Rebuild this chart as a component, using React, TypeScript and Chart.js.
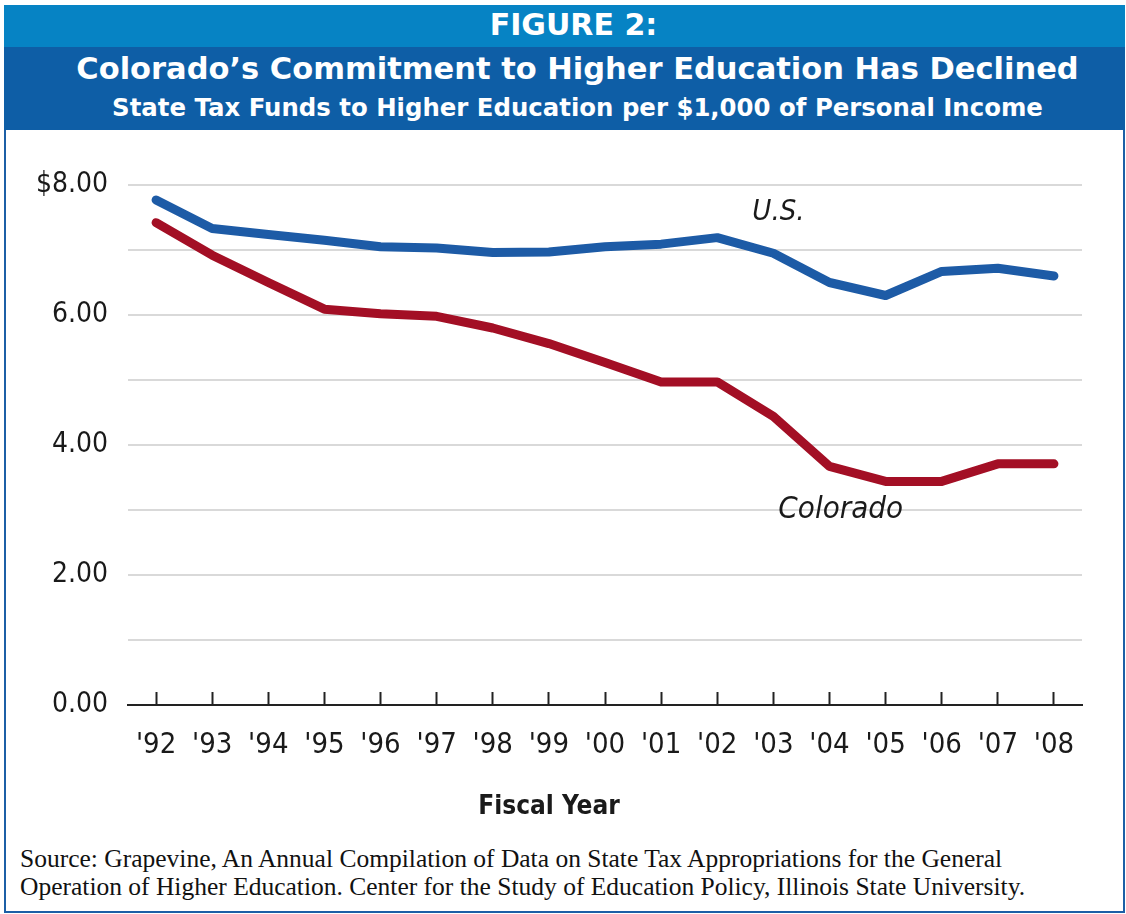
import React, { useEffect, useRef } from 'react';
import { Chart, registerables } from 'chart.js';

Chart.register(...registerables);

// ---- data ----
const fiscalYears = ["'92", "'93", "'94", "'95", "'96", "'97", "'98", "'99", "'00", "'01", "'02", "'03", "'04", "'05", "'06", "'07", "'08"];
const usValues = [7.77, 7.33, 7.24, 7.15, 7.05, 7.03, 6.96, 6.97, 7.05, 7.09, 7.19, 6.95, 6.5, 6.3, 6.67, 6.72, 6.6];
const coloradoValues = [7.42, 6.92, 6.5, 6.09, 6.02, 5.98, 5.8, 5.56, 5.27, 4.97, 4.97, 4.44, 3.67, 3.44, 3.44, 3.71, 3.71];
const yTickLabels = ['0.00', '', '2.00', '', '4.00', '', '6.00', '', '$8.00'];
const seriesNames = ['U.S.', 'Colorado'];

const figureLabel = 'FIGURE 2:';
const titleText = 'Colorado\u2019s Commitment to Higher Education Has Declined';
const subtitleText = 'State Tax Funds to Higher Education per $1,000 of Personal Income';
const xAxisTitle = 'Fiscal Year';
const sourceLines = [
  'Source: Grapevine, An Annual Compilation of Data on State Tax Appropriations for the General',
  'Operation of Higher Education. Center for the Study of Education Policy, Illinois State University.',
];

const NARROW = '"DejaVu Sans Condensed", "Liberation Sans", sans-serif';
const HEAD = '"DejaVu Sans", "Liberation Sans", sans-serif';
const US_COLOR = '#1d5ba6';
const CO_COLOR = '#a30f25';

const seriesLabelPlugin = {
  id: 'seriesLabels',
  afterDatasetsDraw(chart: any) {
    const { ctx, scales } = chart;
    const x = scales.x;
    const y = scales.y;
    ctx.save();
    ctx.fillStyle = '#1a1a1a';
    ctx.textBaseline = 'middle';
    ctx.textAlign = 'left';
    ctx.font = `italic 29px ${NARROW}`;
    ctx.fillText(seriesNames[0], x.getPixelForValue(11) - 21, y.getPixelForValue(7.58));
    ctx.font = `italic 31px ${NARROW}`;
    ctx.fillText(seriesNames[1], x.getPixelForValue(11) + 5, y.getPixelForValue(3.0));
    ctx.restore();
  },
};

export default function App() {
  const canvasRef = useRef<HTMLCanvasElement | null>(null);

  useEffect(() => {
    if (!canvasRef.current) return;
    const chart = new Chart(canvasRef.current, {
      type: 'line',
      data: {
        labels: fiscalYears,
        datasets: [
          {
            label: seriesNames[0],
            data: usValues,
            borderColor: US_COLOR,
            borderWidth: 9,
            pointRadius: 0,
            tension: 0,
            borderCapStyle: 'round',
            borderJoinStyle: 'round',
          },
          {
            label: seriesNames[1],
            data: coloradoValues,
            borderColor: CO_COLOR,
            borderWidth: 9,
            pointRadius: 0,
            tension: 0,
            borderCapStyle: 'round',
            borderJoinStyle: 'round',
          },
        ],
      },
      options: {
        animation: false,
        responsive: false,
        layout: { padding: { left: 6, right: 41, top: 55, bottom: 0 } },
        plugins: {
          legend: { display: false },
          tooltip: { enabled: false },
          title: { display: false },
        },
        scales: {
          x: {
            offset: true,
            grid: {
              display: true,
              drawOnChartArea: false,
              offset: false,
              drawTicks: true,
              tickLength: -13,
              tickColor: '#222',
              tickWidth: 2,
            },
            border: { display: true, color: '#222', width: 2 },
            ticks: {
              color: '#1a1a1a',
              padding: 36,
              maxRotation: 0,
              autoSkip: false,
              font: { family: NARROW, size: 29 },
            },
            afterFit: (scale: any) => {
              scale.height = 130;
            },
          },
          y: {
            min: 0,
            max: 8,
            ticks: {
              stepSize: 1,
              color: '#1a1a1a',
              padding: 20,
              font: { family: NARROW, size: 28 },
              callback: (v: any) => yTickLabels[Math.round(Number(v))] ?? '',
            },
            grid: {
              color: (c: any) => (c.tick && c.tick.value === 0 ? 'rgba(0,0,0,0)' : '#d9d9d9'),
              lineWidth: 2,
              drawTicks: false,
            },
            border: { display: false },
            afterFit: (scale: any) => {
              scale.width = 116;
            },
          },
        },
      },
      plugins: [seriesLabelPlugin],
    } as any);
    return () => chart.destroy();
  }, []);

  return (
    <div style={{ position: 'fixed', left: 0, top: 0, width: 1126, height: 914, background: '#fff', overflow: 'hidden' }}>
      <div
        style={{
          position: 'absolute',
          left: 4,
          top: 5,
          width: 1121,
          height: 908,
          border: '2px solid #1c5fa6',
          boxSizing: 'border-box',
          background: '#fff',
        }}
      />
      <div
        style={{
          position: 'absolute',
          left: 4,
          top: 5,
          width: 1121,
          height: 42,
          background: '#0683c4',
          color: '#fff',
          fontFamily: HEAD,
          fontWeight: 'bold',
          fontSize: 30,
          lineHeight: '40px',
          textAlign: 'center',
          paddingLeft: 18,
          boxSizing: 'border-box',
        }}
      >
        {figureLabel}
      </div>
      <div
        style={{
          position: 'absolute',
          left: 4,
          top: 47,
          width: 1121,
          height: 83,
          background: '#0e5ea6',
          color: '#fff',
          fontFamily: HEAD,
          fontWeight: 'bold',
          textAlign: 'center',
          paddingLeft: 26,
          boxSizing: 'border-box',
        }}
      >
        <div style={{ fontSize: 30.5, lineHeight: '40px', paddingTop: 2 }}>{titleText}</div>
        <div style={{ fontSize: 24.4, lineHeight: '32px', paddingTop: 3 }}>{subtitleText}</div>
      </div>
      <canvas
        ref={canvasRef}
        width={1117}
        height={705}
        style={{ position: 'absolute', left: 6, top: 130, width: 1117, height: 705 }}
      />
      <div
        style={{
          position: 'absolute',
          left: 0,
          width: 1098,
          top: 788,
          textAlign: 'center',
          fontFamily: NARROW,
          fontWeight: 'bold',
          fontSize: 26,
          color: '#1a1a1a',
          lineHeight: '34px',
        }}
      >
        {xAxisTitle}
      </div>
      <div
        style={{
          position: 'absolute',
          left: 20,
          top: 845,
          fontFamily: '"Liberation Serif", "DejaVu Serif", serif',
          fontSize: 25.5,
          lineHeight: '28px',
          color: '#111',
          whiteSpace: 'nowrap',
        }}
      >
        {sourceLines.map((l, i) => (
          <div key={i}>{l}</div>
        ))}
      </div>
    </div>
  );
}
